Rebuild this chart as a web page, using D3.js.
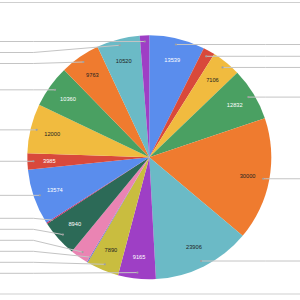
<!DOCTYPE html>
<html>
<head>
<meta charset="utf-8">
<script src="https://cdn.jsdelivr.net/npm/d3@7"></script>
<style>
  html, body { margin: 0; padding: 0; background: #fff; }
  svg { display: block; }
</style>
</head>
<body>
<div id="pieChart"></div>
<script>
// valeurs des tranches, dans le sens horaire depuis midi
const values = [13539, 2900, 7106, 12832, 30000, 23906, 9165, 7890, 250, 4400, 8940, 300, 13574, 3985, 12000, 10360, 9763, 10520, 2300];

// palette (12 couleurs, puis on recommence)
const palette = ["#5a8ded", "#d9493b", "#f1bb3f", "#4aa062", "#ef7b2f", "#6bbac6",
                 "#9e3fc5", "#c9bd3f", "#5c6fd0", "#ea84b3", "#2c6a57", "#c8245c"];
// couleur du texte dans chaque tranche
const darkText = ["#f1bb3f", "#ef7b2f", "#6bbac6", "#c9bd3f"];

const width = 300, height = 300;
const cx = 149.3, cy = 157.3, R = 122;

const svg = d3.select("#pieChart").append("svg")
    .attr("width", width)
    .attr("height", height);

// lignes grises en haut et en bas
svg.append("line").attr("x1", 0).attr("x2", width).attr("y1", 2.5).attr("y2", 2.5)
    .attr("stroke", "#cfcfcf").attr("stroke-width", 1);
svg.append("line").attr("x1", 0).attr("x2", width).attr("y1", 294).attr("y2", 294)
    .attr("stroke", "#cfcfcf").attr("stroke-width", 1);

const pie = d3.pie().sort(null).value(d => d);
const arcs = pie(values);
const arc = d3.arc().innerRadius(0).outerRadius(R);

const g = svg.append("g").attr("transform", "translate(" + cx + "," + cy + ")");

g.selectAll("path")
    .data(arcs)
    .enter().append("path")
    .attr("d", arc)
    .attr("fill", (d, i) => palette[i % palette.length]);

/* ===== LIGNES DE LEGENDE ===== */
const gap = 11;
const pts = arcs.map((d, i) => {
    const a = (d.startAngle + d.endAngle) / 2;
    return {i: i, a: a, x: cx + 0.95 * R * Math.sin(a), y: cy - 0.95 * R * Math.cos(a),
            side: Math.sin(a) >= 0 ? "right" : "left"};
});

["left", "right"].forEach(side => {
    const list = pts.filter(p => p.side === side).sort((a, b) => a.y - b.y);
    list.forEach((p, k) => {
        p.ly = k === 0 ? p.y : Math.max(p.y, list[k - 1].ly + gap);
    });
    const maxY = cy + R - 6;
    for (let k = list.length - 1; k >= 0; k--) {
        const lim = k === list.length - 1 ? maxY : list[k + 1].ly - gap;
        list[k].ly = Math.min(list[k].ly, lim);
    }
});

const lines = svg.append("g");
pts.forEach(p => {
    let path;
    if (p.side === "left") {
        const bx = Math.min(p.x, cx - R + 6);
        path = "M" + p.x + "," + p.y + "L" + bx + "," + p.ly + "L-10," + p.ly;
    } else {
        const bx = Math.max(p.x, cx + R - 6);
        path = "M" + p.x + "," + p.y + "L" + bx + "," + p.ly + "L" + (width + 10) + "," + p.ly;
    }
    lines.append("path").attr("d", path)
        .attr("fill", "none").attr("stroke", "#c4c4c4").attr("stroke-width", 1);
    lines.append("circle").attr("cx", p.x).attr("cy", p.y).attr("r", 1.1).attr("fill", "#a0a0a0");
});

/* ===== VALEURS DANS LES TRANCHES ===== */
const labelR = 100;
// on ne garde le texte que s'il tient dans la tranche
const fitsInSlice = (d, x, y, w, h) => {
    const corners = [[x - w / 2, y - h / 2], [x + w / 2, y - h / 2], [x - w / 2, y + h / 2], [x + w / 2, y + h / 2]];
    return corners.every(c => {
        let ang = Math.atan2(c[0], -c[1]);
        if (ang < 0) ang += 2 * Math.PI;
        const r = Math.hypot(c[0], c[1]);
        return ang >= d.startAngle && ang <= d.endAngle && r < R;
    });
};

g.selectAll("text")
    .data(arcs)
    .enter().append("text")
    .attr("x", d => labelR * Math.sin((d.startAngle + d.endAngle) / 2))
    .attr("y", d => -labelR * Math.cos((d.startAngle + d.endAngle) / 2))
    .attr("text-anchor", "middle")
    .attr("dominant-baseline", "central")
    .style("font-family", "'Liberation Sans', Arial, sans-serif")
    .style("font-size", "5.7px")
    .attr("fill", (d, i) => darkText.includes(palette[i % palette.length]) ? "#222" : "#fff")
    .text(d => d.value)
    .each(function (d) {
        const w = this.getComputedTextLength() + 3;
        const x = +this.getAttribute("x"), y = +this.getAttribute("y");
        if (!fitsInSlice(d, x, y, w, 6)) d3.select(this).remove();
    });
</script>
</body>
</html>
